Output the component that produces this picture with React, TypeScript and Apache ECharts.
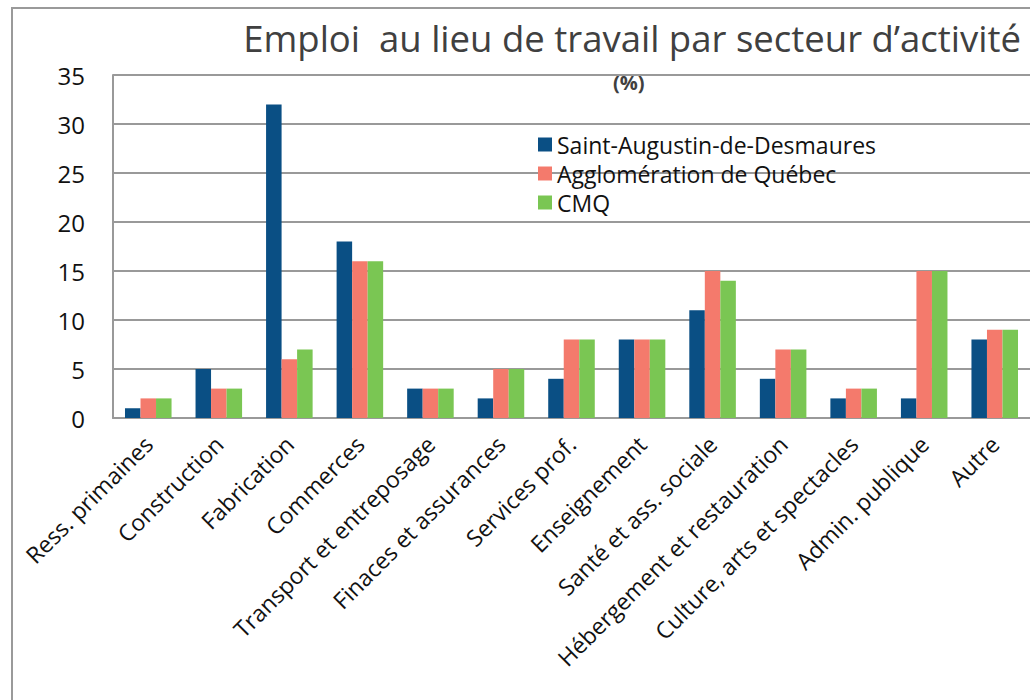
import React, { useEffect, useRef } from "react";
import * as echarts from "echarts";

const categories = [
  "Ress. primaines",
  "Construction",
  "Fabrication",
  "Commerces",
  "Transport et entreposage",
  "Finaces et assurances",
  "Services prof.",
  "Enseignement",
  "Santé et ass. sociale",
  "Hébergement et restauration",
  "Culture, arts et spectacles",
  "Admin. publique",
  "Autre",
];
const seriesNames = ["Saint-Augustin-de-Desmaures", "Agglomération de Québec", "CMQ"];
const saintAugustin = [1, 5, 32, 18, 3, 2, 4, 8, 11, 4, 2, 2, 8];
const agglomeration = [2, 3, 6, 16, 3, 5, 8, 8, 15, 7, 3, 15, 9];
const cmq = [2, 3, 7, 16, 3, 5, 8, 8, 14, 7, 3, 15, 9];
const colors = ["#0a4f84", "#f47a6c", "#7ac653"];
const FONT = "'Open Sans', 'Noto Sans', sans-serif";

export default function App() {
  const ref = useRef<HTMLDivElement>(null);
  useEffect(() => {
    document.body.style.margin = "0";
    const chart = echarts.init(ref.current!, null, { renderer: "svg" });
    chart.setOption({
      animation: false,
      backgroundColor: "#ffffff",
      textStyle: { fontFamily: FONT },
      title: [
        {
          text: "Emploi  au lieu de travail par secteur d\u2019activité",
          right: 4,
          top: 14,
          textStyle: { fontFamily: FONT, fontSize: 36.5, fontWeight: "normal", color: "#404040" },
        },
        {
          text: "(%)",
          left: 608,
          top: 67,
          textStyle: { fontFamily: FONT, fontSize: 20, fontWeight: "bold", color: "#404040" },
        },
      ],
      graphic: [
        {
          type: "rect",
          shape: { x: 12, y: 8, width: 1200, height: 900 },
          style: { fill: "none", stroke: "#9a9a9a", lineWidth: 2 },
          silent: true,
        },
      ],
      legend: {
        orient: "vertical",
        left: 538,
        top: 133,
        padding: 0,
        itemWidth: 14,
        itemHeight: 14,
        itemGap: 6,
        icon: "rect",
        textStyle: { fontFamily: FONT, fontSize: 23, color: "#111" },
        data: seriesNames,
      },
      grid: { left: 113, top: 75, right: -6, bottom: 282, containLabel: false },
      xAxis: {
        type: "category",
        data: categories,
        axisLine: { lineStyle: { color: "#999", width: 2 } },
        axisTick: { show: false },
        axisLabel: {
          interval: 0,
          rotate: 45,
          margin: 22,
          fontSize: 23,
          color: "#111",
          fontFamily: FONT,
        },
      },
      yAxis: {
        type: "value",
        min: 0,
        max: 35,
        interval: 5,
        axisLine: { show: true, lineStyle: { color: "#999", width: 2 } },
        axisTick: { show: false },
        splitLine: { lineStyle: { color: "#999", width: 2 } },
        axisLabel: { fontSize: 24, color: "#111", margin: 28, fontFamily: FONT },
      },
      series: [saintAugustin, agglomeration, cmq].map((d, i) => ({
        name: seriesNames[i],
        type: "bar",
        data: d,
        barGap: "0%",
        barCategoryGap: "34%",
        itemStyle: { color: colors[i] },
      })),
    });
    return () => chart.dispose();
  }, []);
  return <div ref={ref} style={{ width: 1030, height: 700 }} />;
}
